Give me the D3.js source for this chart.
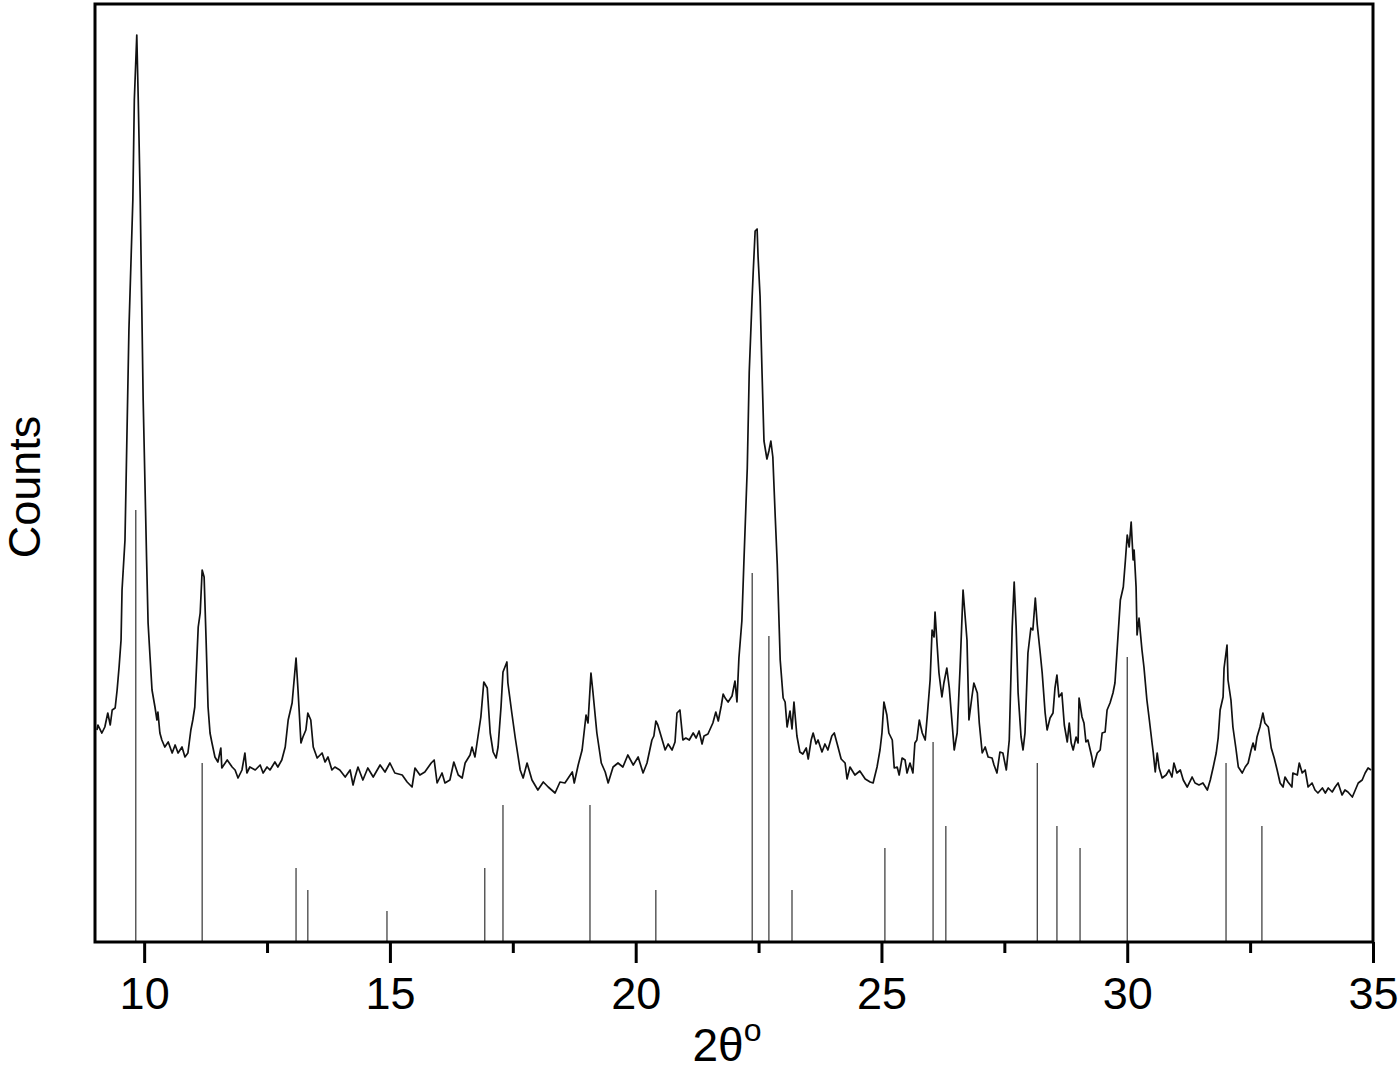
<!DOCTYPE html>
<html>
<head>
<meta charset="utf-8">
<script src="https://cdn.jsdelivr.net/npm/d3@7"></script>
<style>
  body { margin: 0; background: #fff; }
  svg { display: block; font-family: "Liberation Sans", Arial, sans-serif; }
</style>
</head>
<body>
<svg id="chart" width="1400" height="1072"></svg>
<script>
// measured pattern: 2theta (deg) and counts (arbitrary units)
const twoTheta = [
  9.04, 9.06, 9.14, 9.20, 9.26, 9.31, 9.35, 9.41, 9.45, 9.49, 9.53, 9.55, 9.61, 9.69, 9.77, 9.80, 9.85, 9.88, 9.92, 9.98,
  10.05, 10.08, 10.12, 10.16, 10.22, 10.26, 10.28, 10.32, 10.36, 10.42, 10.49, 10.57, 10.63, 10.69, 10.77, 10.83, 10.89, 10.95, 10.99,
  11.03, 11.10, 11.14, 11.18, 11.22, 11.26, 11.30, 11.34, 11.38, 11.44, 11.50, 11.56, 11.58, 11.69, 11.79, 11.85, 11.91, 11.99,
  12.05, 12.09, 12.15, 12.26, 12.36, 12.42, 12.50, 12.56, 12.66, 12.72, 12.80, 12.87, 12.93,
  13.01, 13.09, 13.13, 13.19, 13.23, 13.29, 13.33, 13.39, 13.44, 13.52, 13.62, 13.68, 13.74, 13.82, 13.88, 13.98,
  14.09, 14.19, 14.25, 14.29, 14.35, 14.45, 14.55, 14.66, 14.80, 14.90,
  15.00, 15.10, 15.25, 15.35, 15.45, 15.51, 15.61, 15.71, 15.84, 15.90, 15.96,
  16.06, 16.12, 16.22, 16.30, 16.39, 16.47, 16.53, 16.63, 16.67, 16.73, 16.79, 16.85, 16.91, 16.98,
  17.04, 17.10, 17.16, 17.20, 17.26, 17.30, 17.38, 17.40, 17.48, 17.55, 17.65, 17.71, 17.79, 17.89,
  18.01, 18.12, 18.22, 18.36, 18.46, 18.56, 18.71, 18.75, 18.83, 18.91, 18.99,
  19.03, 19.09, 19.13, 19.21, 19.30, 19.38, 19.44, 19.54, 19.64, 19.74, 19.84, 19.95,
  20.05, 20.15, 20.23, 20.33, 20.37, 20.41, 20.45, 20.54, 20.60, 20.66, 20.74, 20.80, 20.84, 20.90, 20.96,
  21.02, 21.09, 21.17, 21.23, 21.29, 21.35, 21.39, 21.47, 21.57, 21.63, 21.68, 21.74, 21.78, 21.82, 21.88, 21.96,
  22.02, 22.06, 22.10, 22.16, 22.20, 22.27, 22.31, 22.37, 22.39, 22.43, 22.47, 22.49, 22.53, 22.57, 22.61, 22.67, 22.71, 22.75, 22.79, 22.84, 22.88, 22.94,
  23.00, 23.04, 23.08, 23.14, 23.18, 23.22, 23.28, 23.34, 23.40, 23.47, 23.51, 23.57, 23.61, 23.67, 23.71, 23.79, 23.85, 23.91, 23.99,
  24.04, 24.10, 24.18, 24.26, 24.30, 24.36, 24.46, 24.56, 24.67, 24.77, 24.83, 24.91, 24.97,
  25.01, 25.05, 25.11, 25.15, 25.22, 25.26, 25.32, 25.36, 25.42, 25.48, 25.52, 25.58, 25.64, 25.68, 25.72, 25.77, 25.83, 25.89, 25.93, 25.99,
  26.03, 26.07, 26.09, 26.13, 26.17, 26.23, 26.27, 26.33, 26.38, 26.44, 26.48, 26.54, 26.60, 26.66, 26.74, 26.78, 26.84, 26.88, 26.95, 26.99,
  27.05, 27.11, 27.17, 27.25, 27.29, 27.35, 27.41, 27.47, 27.54, 27.60, 27.66, 27.70, 27.74, 27.78, 27.84, 27.88, 27.92, 27.98,
  28.04, 28.08, 28.13, 28.17, 28.23, 28.27, 28.33, 28.37, 28.43, 28.49, 28.53, 28.57, 28.61, 28.67, 28.72, 28.78, 28.82, 28.86, 28.90, 28.96,
  29.00, 29.02, 29.08, 29.12, 29.16, 29.20, 29.28, 29.31, 29.39, 29.45, 29.49, 29.55, 29.59, 29.65, 29.71, 29.75, 29.79, 29.86, 29.92, 29.96,
  30.00, 30.04, 30.08, 30.12, 30.14, 30.18, 30.20, 30.24, 30.30, 30.34, 30.40, 30.45, 30.51, 30.53, 30.57, 30.61, 30.65, 30.71, 30.79, 30.85, 30.91, 30.95,
  31.01, 31.08, 31.14, 31.22, 31.32, 31.38, 31.46, 31.54, 31.63, 31.69, 31.75, 31.81, 31.85, 31.89, 31.95, 31.97,
  32.03, 32.05, 32.11, 32.15, 32.21, 32.26, 32.34, 32.40, 32.46, 32.52, 32.56, 32.60, 32.64, 32.70, 32.76, 32.80, 32.87, 32.93, 32.99,
  33.05, 33.11, 33.17, 33.21, 33.27, 33.35, 33.37, 33.46, 33.50, 33.56, 33.62, 33.68, 33.76, 33.82, 33.88, 33.97,
  34.03, 34.09, 34.17, 34.23, 34.29, 34.37, 34.43, 34.49, 34.58, 34.64, 34.70, 34.78, 34.84, 34.90, 34.96
];
const counts = [
  212, 217, 209, 215, 229, 217, 232, 234, 252, 275, 302, 352, 402, 612, 742, 842, 907, 842, 742, 542,
  382, 319, 285, 252, 235, 222, 230, 209, 202, 195, 200, 189, 197, 189, 195, 185, 189, 212, 222,
  235, 315, 329, 372, 365, 302, 235, 209, 199, 185, 180, 194, 174, 182, 175, 172, 164, 172,
  189, 169, 175, 172, 177, 169, 175, 172, 180, 175, 182, 195, 222,
  239, 284, 252, 199, 205, 212, 229, 222, 195, 184, 189, 180, 185, 172, 175, 172,
  165, 172, 157, 165, 175, 162, 174, 165, 177, 170,
  179, 169, 167, 160, 155, 174, 167, 170, 179, 182, 159,
  169, 159, 162, 180, 167, 164, 179, 187, 195, 185, 205, 225, 260, 254,
  209, 190, 184, 195, 235, 270, 280, 259, 229, 204, 172, 164, 179, 162,
  152, 160, 155, 149, 160, 159, 170, 159, 177, 192, 227,
  219, 269, 250, 209, 179, 170, 159, 175, 179, 175, 187, 177,
  185, 169, 179, 202, 206, 221, 217, 202, 192, 198, 192, 200, 229, 232, 202,
  204, 202, 209, 204, 211, 198, 206, 208, 219, 230, 221, 236, 248, 244, 240, 246,
  261, 240, 284, 321, 378, 474, 570, 646, 669, 711, 713, 685, 646, 570, 501, 483, 491, 501, 485, 424, 378, 282,
  244, 240, 215, 231, 213, 240, 206, 190, 188, 194, 183, 202, 209, 198, 202, 190, 198, 192, 206,
  209, 198, 183, 179, 163, 175, 167, 171, 163, 160, 159, 175, 192,
  209, 240, 227, 209, 202, 174, 175, 167, 184, 182, 169, 179, 169, 199, 202, 222, 209, 202, 225, 262,
  312, 305, 330, 299, 269, 245, 259, 274, 254, 217, 192, 209, 275, 352, 302, 222, 245, 259, 249, 219,
  189, 195, 185, 184, 177, 169, 190, 189, 172, 202, 315, 360, 315, 249, 205, 192, 209, 289,
  314, 312, 344, 317, 289, 269, 229, 212, 224, 229, 254, 267, 245, 249, 217, 200, 219, 199, 192, 205,
  199, 244, 225, 219, 200, 202, 185, 175, 189, 192, 209, 210, 232, 239, 249, 259, 289, 342, 355, 380,
  407, 395, 420, 382, 392, 355, 307, 324, 292, 275, 242, 222, 197, 189, 170, 189, 174, 164, 167, 172, 165, 179,
  169, 172, 162, 155, 165, 159, 157, 159, 152, 162, 175, 189, 204, 232, 245, 274,
  297, 262, 242, 215, 194, 175, 169, 175, 179, 192, 199, 192, 205, 215, 229, 219, 215, 194, 184,
  172, 159, 155, 165, 160, 155, 169, 167, 179, 169, 172, 155, 159, 152, 149, 154,
  149, 154, 150, 155, 159, 147, 152, 150, 145, 152, 159, 162, 169, 174, 172
];

// reference (stick) pattern
const refPositions = [9.83, 11.18, 13.09, 13.33, 14.94, 16.93, 17.30, 19.07, 20.41, 22.37, 22.71,
  23.18, 25.07, 26.05, 26.31, 28.17, 28.57, 29.04, 30.00, 32.01, 32.74];
const refHeights = [432, 179, 74, 52, 31, 74, 137, 137, 52, 369, 306,
  52, 94, 200, 116, 179, 116, 94, 285, 179, 116];

const xMajorTicks = [10, 15, 20, 25, 30, 35];
const xMinorTicks = [12.5, 17.5, 22.5, 27.5, 32.5];

const margin = { top: 4, right: 27, bottom: 130, left: 95 };
const width = 1400, height = 1072;
const innerW = width - margin.left - margin.right;
const innerH = height - margin.top - margin.bottom;

const svg = d3.select('#chart');
const g = svg.append('g').attr('transform', `translate(${margin.left},${margin.top})`);

const x = d3.scaleLinear().domain([9, 35]).range([0, innerW]);
const y = d3.scaleLinear().domain([0, 938]).range([innerH, 0]);

const pattern = twoTheta.map((t, i) => ({ t: t, c: counts[i] }));
const sticks = refPositions.map((p, i) => ({ p: p, h: refHeights[i] }));

// sticks
g.selectAll('line.stick')
  .data(sticks)
  .enter()
  .append('line')
  .attr('class', 'stick')
  .attr('x1', d => x(d.p))
  .attr('x2', d => x(d.p))
  .attr('y1', y(0))
  .attr('y2', d => y(d.h))
  .attr('stroke', '#333')
  .attr('stroke-width', 1.2);

// measured pattern
let line = d3.line()
  .x(d => x(d.t))
  .y(d => y(d.c));

g.append('path')
  .datum(pattern)
  .attr('d', line)
  .attr('fill', 'none')
  .attr('stroke', '#111')
  .attr('stroke-width', 1.7)
  .attr('stroke-linejoin', 'round');

// frame
g.append('rect')
  .attr('x', 0)
  .attr('y', 0)
  .attr('width', innerW)
  .attr('height', innerH)
  .attr('fill', 'none')
  .attr('stroke', '#000')
  .attr('stroke-width', 3);

// x axis ticks
let xAxis = d3.axisBottom(x)
  .tickValues(xMajorTicks)
  .tickSize(21)
  .tickPadding(14)
  .tickFormat(d3.format('d'));

let axisG = g.append('g')
  .attr('transform', `translate(0,${innerH})`)
  .call(xAxis);
axisG.select('.domain').remove();
axisG.selectAll('.tick line').attr('stroke', '#000').attr('stroke-width', 3);
axisG.selectAll('.tick text')
  .attr('fill', '#000')
  .style('font-size', '45px')
  .style('font-family', '"Liberation Sans", Arial, sans-serif');

let minorAxis = d3.axisBottom(x)
  .tickValues(xMinorTicks)
  .tickSize(11)
  .tickFormat('');
let minorG = g.append('g')
  .attr('transform', `translate(0,${innerH})`)
  .call(minorAxis);
minorG.select('.domain').remove();
minorG.selectAll('.tick line').attr('stroke', '#000').attr('stroke-width', 3);

// axis titles
let xTitle = svg.append('text')
  .attr('x', 727)
  .attr('y', 1061)
  .attr('text-anchor', 'middle')
  .style('font-size', '46px')
  .attr('fill', '#000');
xTitle.append('tspan').text('2θ');
xTitle.append('tspan').attr('dy', -20).style('font-size', '32px').text('o');

svg.append('text')
  .attr('transform', 'translate(40,487) rotate(-90)')
  .attr('text-anchor', 'middle')
  .style('font-size', '45px')
  .attr('fill', '#000')
  .text('Counts');
</script>
</body>
</html>
